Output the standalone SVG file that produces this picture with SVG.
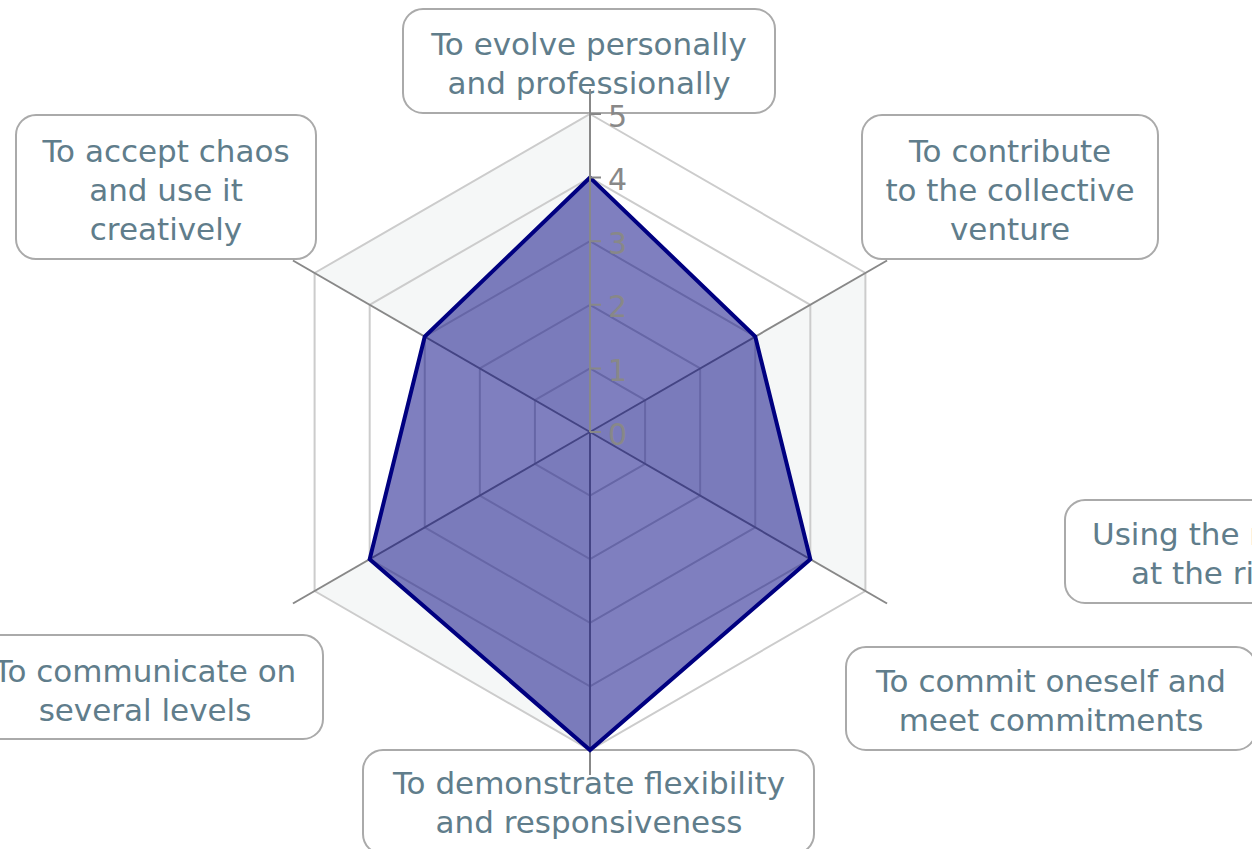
<svg xmlns="http://www.w3.org/2000/svg" width="1252" height="849" viewBox="0 0 1252 849">
<style>
.box{fill:#ffffff;stroke:#aaaaaa;stroke-width:2}
.lbl{font-family:"DejaVu Sans","Liberation Sans",sans-serif;font-size:31px;fill:#607d8b;text-anchor:middle}
.lbls{font-family:"DejaVu Sans","Liberation Sans",sans-serif;font-size:31px;fill:#607d8b;text-anchor:start}
.band{fill:#f5f7f7;stroke:none}
.grid{fill:none;stroke:#cccccc;stroke-width:2;stroke-linejoin:miter}
.spoke{stroke:#888888;stroke-width:2;fill:none}
.tick{font-family:"DejaVu Sans","Liberation Sans",sans-serif;font-size:30px;fill:#888888}
</style>
<rect width="1252" height="849" fill="#ffffff"/>
<g id="labels">
<g id="label-evolve">
<rect class="box" x="403" y="9" width="372" height="104" rx="20"/>
<text class="lbl" x="589" y="55">To evolve personally</text>
<text class="lbl" x="589" y="94">and professionally</text>
</g>
<g id="label-chaos">
<rect class="box" x="16" y="115" width="300" height="144" rx="20"/>
<text class="lbl" x="166" y="162">To accept chaos</text>
<text class="lbl" x="166" y="201">and use it</text>
<text class="lbl" x="166" y="240">creatively</text>
</g>
<g id="label-contribute">
<rect class="box" x="862" y="115" width="296" height="144" rx="20"/>
<text class="lbl" x="1010" y="162">To contribute</text>
<text class="lbl" x="1010" y="201">to the collective</text>
<text class="lbl" x="1010" y="240">venture</text>
</g>
<g id="label-using">
<rect class="box" x="1065" y="500" width="260" height="103" rx="20"/>
<text class="lbls" x="1092" y="545">Using the r</text>
<text class="lbls" x="1131" y="584">at the ri</text>
</g>
<g id="label-commit">
<rect class="box" x="846" y="647" width="410" height="103" rx="20"/>
<text class="lbl" x="1051" y="692">To commit oneself and</text>
<text class="lbl" x="1051" y="731">meet commitments</text>
</g>
<g id="label-communicate">
<rect class="box" x="-33" y="635" width="356" height="104" rx="20"/>
<text class="lbl" x="145" y="682">To communicate on</text>
<text class="lbl" x="145" y="721">several levels</text>
</g>
<g id="label-flexibility">
<rect class="box" x="363" y="750" width="451" height="104" rx="20"/>
<text class="lbl" x="589" y="794">To demonstrate flexibility</text>
<text class="lbl" x="589" y="833">and responsiveness</text>
</g>
</g>
<g id="chart">
<g id="bands">
<polygon class="band" points="590,432 865.4,273 865.4,591"/>
<polygon class="band" points="590,432 590,750 314.6,591"/>
<polygon class="band" points="590,432 314.6,273 590,114"/>
</g>
<g id="grid">
<polygon class="grid" points="590,368.4 645.08,400.2 645.08,463.8 590,495.6 534.92,463.8 534.92,400.2"/>
<polygon class="grid" points="590,304.8 700.16,368.4 700.16,495.6 590,559.2 479.84,495.6 479.84,368.4"/>
<polygon class="grid" points="590,241.2 755.24,336.6 755.24,527.4 590,622.8 424.76,527.4 424.76,336.6"/>
<polygon class="grid" points="590,177.6 810.32,304.8 810.32,559.2 590,686.4 369.68,559.2 369.68,304.8"/>
<polygon class="grid" points="590,114 865.4,273 865.4,591 590,750 314.6,591 314.6,273"/>
</g>
<g id="connectors">
<line class="spoke" x1="590" y1="432" x2="887.05" y2="260.5"/>
<line class="spoke" x1="590" y1="432" x2="887.05" y2="603.5"/>
<line class="spoke" x1="590" y1="432" x2="590" y2="775"/>
<line class="spoke" x1="590" y1="432" x2="292.95" y2="603.5"/>
<line class="spoke" x1="590" y1="432" x2="292.95" y2="260.5"/>
</g>
<g id="series">
<polygon points="590,177.6 755.24,336.6 810.32,559.2 590,750 369.68,559.2 424.76,336.6" fill="#000080" fill-opacity="0.5" stroke="#000080" stroke-width="4" stroke-linejoin="miter"/>
</g>
<g id="yaxis">
<line class="spoke" x1="590" y1="432" x2="590" y2="89"/>
<path d="M590 432H601M590 368.4H601M590 304.8H601M590 241.2H601M590 177.6H601M590 114H601" stroke="#888888" stroke-width="2" fill="none"/>
<text class="tick" x="608" y="444.5">0</text>
<text class="tick" x="608" y="380.9">1</text>
<text class="tick" x="608" y="317.3">2</text>
<text class="tick" x="608" y="253.7">3</text>
<text class="tick" x="608" y="190.1">4</text>
<text class="tick" x="608" y="126.5">5</text>
</g>
</g>
</svg>
